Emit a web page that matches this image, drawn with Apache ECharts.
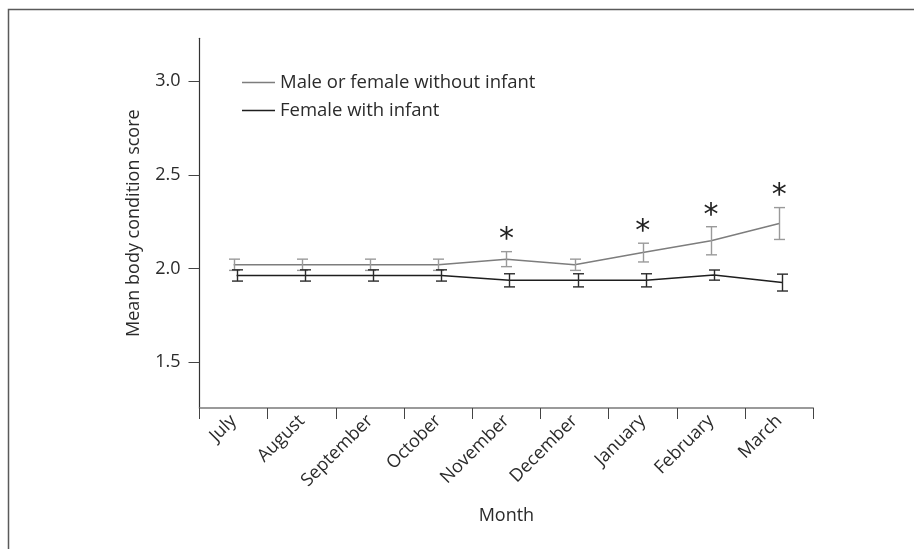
<!DOCTYPE html>
<html>
<head>
<meta charset="utf-8">
<script src="https://cdn.jsdelivr.net/npm/echarts@6/dist/echarts.min.js"></script>
<style>
  html, body { margin: 0; padding: 0; background: #fff; }
  #chart { width: 914px; height: 549px; }
</style>
</head>
<body>
<div id="chart"></div>
<script>
// months on the x axis
var months = ['July', 'August', 'September', 'October', 'November', 'December', 'January', 'February', 'March'];

// mean body condition score and its error (half bar length)
var maleMean = [2.02, 2.02, 2.02, 2.02, 2.05, 2.02, 2.085, 2.148, 2.24];
var maleErr = [0.03, 0.03, 0.03, 0.03, 0.04, 0.03, 0.05, 0.075, 0.085];
var femaleMean = [1.963, 1.963, 1.963, 1.963, 1.937, 1.937, 1.937, 1.965, 1.925];
var femaleErr = [0.03, 0.03, 0.03, 0.03, 0.035, 0.035, 0.035, 0.027, 0.045];

// months marked with * (significant difference)
var significant = [false, false, false, false, true, false, true, true, true];

var yTicks = [1.5, 2.0, 2.5, 3.0];
var seriesNames = ['Male or female without infant', 'Female with infant'];

var FONT = 'Open Sans';
var FS = 18;
var GRAY = '#7d7d7d';
var GRAY_ERR = '#9a9a9a';
var DARK = '#1e1e1e';

function errData(mean, err) {
    var out = [];
    for (var i = 0; i < mean.length; i++) {
        out.push([i, mean[i] - err[i], mean[i] + err[i]]);
    }
    return out;
}

function starData() {
    var out = [];
    for (var i = 0; i < months.length; i++) {
        if (significant[i]) out.push([i, maleMean[i] + maleErr[i]]);
    }
    return out;
}

function errRender(color) {
    return function (params, api) {
        var lo = api.coord([api.value(0), api.value(1)]);
        var hi = api.coord([api.value(0), api.value(2)]);
        var x = Math.round(lo[0]) + 0.5;
        var w = 5.5;
        var style = { stroke: color, lineWidth: 1.4 };
        return {
            type: 'group',
            children: [
                { type: 'line', shape: { x1: x, y1: hi[1], x2: x, y2: lo[1] }, style: style },
                { type: 'line', shape: { x1: x - w, y1: hi[1], x2: x + w, y2: hi[1] }, style: style },
                { type: 'line', shape: { x1: x - w, y1: lo[1], x2: x + w, y2: lo[1] }, style: style }
            ]
        };
    };
}

var chart = echarts.init(document.getElementById('chart'));

var hiddenX = {
    type: 'category', data: months, boundaryGap: true, show: false
};
var yRange = { min: 1.256, max: 3.228 };

chart.setOption({
    backgroundColor: '#fff',
    animation: false,
    textStyle: { fontFamily: FONT },
    graphic: [{
        type: 'rect',
        shape: { x: 8.5, y: 9.5, width: 2000, height: 2000 },
        style: { fill: 'none', stroke: '#5a5a5a', lineWidth: 1.5 },
        silent: true
    }],
    legend: {
        orient: 'vertical',
        left: 237,
        top: 68,
        icon: 'rect',
        itemWidth: 33,
        itemHeight: 1.4,
        itemGap: 9,
        data: seriesNames,
        textStyle: { fontSize: 18.5, color: '#2b2b2b', fontFamily: FONT, lineHeight: 18, padding: [0, 0, 0, 0] }
    },
    grid: [
        { left: 199.5, right: 100.7, top: 38.3, bottom: 141 },
        // same plot shifted a little to the right, as the dark series is drawn in the original
        { left: 202.5, right: 97.7, top: 38.3, bottom: 141 }
    ],
    xAxis: [{
        type: 'category',
        gridIndex: 0,
        data: months,
        boundaryGap: true,
        name: 'Month',
        nameLocation: 'middle',
        nameGap: 99,
        nameTextStyle: { fontSize: FS, color: '#2b2b2b', fontFamily: FONT },
        axisLine: { lineStyle: { color: '#7a7a7a', width: 1.6 } },
        axisTick: { show: true, alignWithLabel: false, interval: 0, length: 11, lineStyle: { color: '#444', width: 1 } },
        axisLabel: { rotate: 45, fontSize: FS, color: '#2b2b2b', margin: 10, interval: 0, fontFamily: FONT }
    }, Object.assign({ gridIndex: 1 }, hiddenX)],
    yAxis: [{
        type: 'value',
        gridIndex: 0,
        min: yRange.min,
        max: yRange.max,
        name: 'Mean body condition score',
        nameLocation: 'middle',
        nameGap: 57,
        nameTextStyle: { fontSize: FS, color: '#2b2b2b', fontFamily: FONT },
        splitLine: { show: false },
        axisLine: { show: true, lineStyle: { color: '#333', width: 1.2 } },
        axisTick: { show: true, length: 11, customValues: yTicks, lineStyle: { color: '#444' } },
        axisLabel: {
            customValues: yTicks, fontSize: FS, color: '#2b2b2b', margin: 19, fontFamily: FONT,
            formatter: function (v) { return v.toFixed(1); }
        }
    }, {
        type: 'value', gridIndex: 1, min: yRange.min, max: yRange.max, show: false, splitLine: { show: false }
    }],
    series: [{
        name: seriesNames[0],
        type: 'line',
        xAxisIndex: 0, yAxisIndex: 0,
        data: maleMean,
        symbol: 'none',
        lineStyle: { color: GRAY, width: 1.5 },
        itemStyle: { color: GRAY },
        z: 3
    }, {
        name: seriesNames[1],
        type: 'line',
        xAxisIndex: 1, yAxisIndex: 1,
        data: femaleMean,
        symbol: 'none',
        lineStyle: { color: DARK, width: 1.5 },
        itemStyle: { color: DARK },
        z: 3
    }, {
        type: 'custom',
        xAxisIndex: 0, yAxisIndex: 0,
        data: errData(maleMean, maleErr),
        renderItem: errRender(GRAY_ERR),
        z: 4
    }, {
        type: 'custom',
        xAxisIndex: 1, yAxisIndex: 1,
        data: errData(femaleMean, femaleErr),
        renderItem: errRender('#2a2a2a'),
        z: 4
    }, {
        type: 'custom',
        xAxisIndex: 0, yAxisIndex: 0,
        data: starData(),
        renderItem: function (params, api) {
            var p = api.coord([api.value(0), api.value(1)]);
            return {
                type: 'text',
                x: p[0],
                y: p[1] - 11,
                style: {
                    text: '*',
                    fontSize: 30,
                    fontFamily: 'DejaVu Sans',
                    fill: '#222',
                    align: 'center',
                    verticalAlign: 'middle'
                }
            };
        },
        z: 5
    }]
});
</script>
</body>
</html>
